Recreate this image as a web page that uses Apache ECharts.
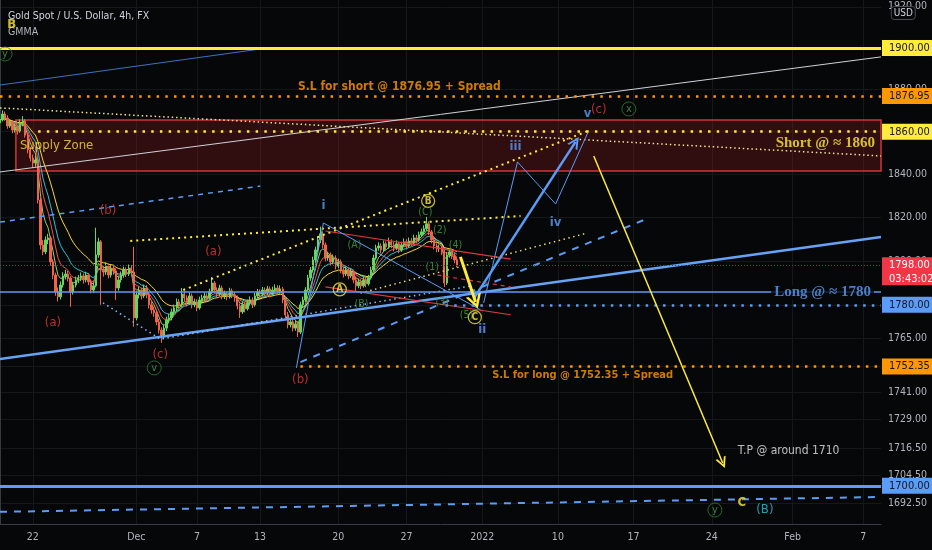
<!DOCTYPE html>
<html><head><meta charset="utf-8">
<script src="https://cdn.jsdelivr.net/npm/echarts@6/dist/echarts.min.js"></script>
<style>html,body{margin:0;padding:0;background:#060709;}#c{width:932px;height:550px;}</style>
</head><body><div id="c"></div>
<script>
const FONT = "'Liberation Sans Narrow','DejaVu Sans Condensed','Roboto',sans-serif";
const SERIF = "'Liberation Serif','DejaVu Serif',serif";

// ---- axes ----
const SLOT_COUNT = 350; // 4h bar slots (6 per trading day)
const dateTickSlots = [13, 54, 78, 103, 134, 161, 191, 221, 251, 282, 314, 342];
const dateTickLabels = ['22', 'Dec', '7', '13', '20', '27', '2022', '10', '17', '24', 'Feb', '7'];
const priceTicks = [1920, 1900, 1880, 1860, 1840, 1820, 1800, 1780, 1765, 1752.5, 1741, 1729, 1716.5, 1704.5, 1692.5];
const priceMin = 1683.6, priceMax = 1923.3;

// ---- candles [open, close, low, high] ----
const candles = [
[1864.2,1865.6,1862.8,1867.3],[1865.6,1868.4,1864.9,1870.1],[1868.4,1866.5,1865.2,1869.6],[1866.5,1862.7,1861.4,1867.8],
[1862.7,1864.6,1861.9,1866.0],[1864.6,1860.8,1859.3,1865.5],[1860.8,1862.2,1859.6,1863.8],[1862.2,1860.3,1858.7,1863.1],
[1860.3,1864.1,1859.5,1865.9],[1864.1,1865.1,1862.6,1867.4],[1865.1,1858.4,1857.2,1866.0],[1858.4,1851.4,1849.8,1859.3],
[1851.4,1847.6,1846.1,1852.8],[1847.6,1845.3,1843.0,1849.2],[1845.3,1846.7,1843.5,1848.6],[1846.7,1828.0,1826.4,1847.9],
[1828.0,1807.3,1805.2,1829.1],[1807.3,1804.1,1802.6,1809.5],[1804.1,1809.6,1803.0,1811.2],[1809.6,1810.5,1807.7,1812.4],
[1810.5,1799.5,1797.8,1811.3],[1799.5,1793.5,1791.6,1800.7],[1793.5,1785.8,1784.1,1794.6],[1785.8,1783.6,1781.5,1787.9],
[1783.6,1789.0,1782.4,1790.6],[1789.0,1793.1,1787.8,1794.8],[1793.1,1794.0,1791.5,1795.9],[1794.0,1792.2,1790.6,1795.4],
[1792.2,1785.8,1779.1,1793.0],[1785.8,1789.0,1784.6,1790.5],[1789.0,1791.3,1787.9,1792.8],[1791.3,1792.2,1789.9,1793.6],
[1792.2,1793.1,1790.8,1794.7],[1793.1,1791.3,1789.6,1794.2],[1791.3,1793.5,1790.2,1795.0],[1793.5,1790.4,1788.9,1794.3],
[1790.4,1786.7,1785.2,1791.6],[1786.7,1788.6,1785.3,1790.1],[1788.6,1802.7,1787.9,1815.2],[1802.7,1808.7,1801.4,1810.6],
[1808.7,1795.8,1780.0,1809.5],[1795.8,1794.9,1792.8,1797.7],[1794.9,1797.6,1793.6,1799.3],[1797.6,1793.5,1792.0,1798.8],
[1793.5,1796.7,1792.4,1798.2],[1796.7,1795.4,1793.7,1797.9],[1795.4,1787.6,1782.2,1796.6],[1787.6,1791.3,1786.4,1792.9],
[1791.3,1793.5,1790.1,1795.1],[1793.5,1795.8,1792.3,1797.4],[1795.8,1794.0,1792.6,1797.0],[1794.0,1796.7,1793.1,1798.3],
[1796.7,1794.9,1793.2,1798.0],[1794.9,1774.1,1770.1,1806.4],[1774.1,1784.5,1773.0,1786.1],[1784.5,1786.7,1782.9,1788.3],
[1786.7,1784.0,1782.4,1787.8],[1784.0,1787.6,1783.1,1789.2],[1787.6,1784.5,1783.0,1788.9],[1784.5,1780.0,1778.3,1785.6],
[1780.0,1777.7,1776.0,1781.4],[1777.7,1776.4,1774.6,1779.2],[1776.4,1772.3,1770.8,1777.5],[1772.3,1768.6,1767.0,1773.6],
[1768.6,1765.5,1762.9,1769.8],[1765.5,1769.5,1764.6,1771.0],[1769.5,1773.2,1768.2,1774.7],[1773.2,1774.1,1771.6,1775.9],
[1774.1,1776.8,1773.0,1778.3],[1776.8,1778.6,1775.4,1780.1],[1778.6,1781.3,1777.2,1782.9],[1781.3,1780.0,1778.4,1782.6],
[1780.0,1784.9,1779.1,1787.6],[1784.9,1783.1,1781.6,1786.2],[1783.1,1780.9,1779.3,1784.3],[1780.9,1784.0,1780.0,1785.5],
[1784.0,1780.0,1778.4,1785.1],[1780.0,1781.3,1778.9,1782.8],[1781.3,1778.6,1777.1,1782.5],[1778.6,1782.2,1777.8,1783.7],
[1782.2,1783.1,1780.9,1784.6],[1783.1,1784.0,1781.8,1785.6],[1784.0,1783.1,1781.5,1785.2],[1783.1,1785.8,1782.3,1787.3],
[1785.8,1789.9,1785.0,1792.6],[1789.9,1786.7,1785.1,1790.8],[1786.7,1784.9,1783.2,1787.9],[1784.9,1787.6,1784.0,1789.1],
[1787.6,1784.0,1782.5,1788.7],[1784.0,1784.9,1782.6,1786.4],[1784.9,1783.6,1782.1,1786.0],[1783.6,1786.3,1782.8,1787.7],
[1786.3,1784.5,1783.0,1787.4],[1784.5,1783.1,1781.4,1785.8],[1783.1,1779.5,1777.9,1784.2],[1779.5,1776.8,1774.1,1780.6],
[1776.8,1780.0,1775.9,1781.5],[1780.0,1778.2,1776.6,1781.3],[1778.2,1780.9,1777.4,1782.3],[1780.9,1782.2,1779.6,1783.8],
[1782.2,1780.0,1778.5,1783.4],[1780.0,1784.0,1779.2,1785.4],[1784.0,1785.8,1782.9,1787.2],[1785.8,1784.9,1783.3,1787.0],
[1784.9,1786.7,1783.8,1788.1],[1786.7,1785.4,1784.0,1787.9],[1785.4,1787.2,1784.5,1788.6],[1787.2,1784.9,1783.4,1788.3],
[1784.9,1786.7,1784.1,1788.2],[1786.7,1787.6,1785.5,1789.3],[1787.6,1786.3,1784.8,1788.9],[1786.3,1787.2,1785.0,1788.8],
[1787.2,1782.2,1780.7,1788.1],[1782.2,1775.5,1773.9,1783.3],[1775.5,1771.0,1769.4,1776.8],[1771.0,1772.3,1769.8,1773.9],
[1772.3,1769.5,1768.0,1773.5],[1769.5,1771.4,1768.3,1772.9],[1771.4,1767.7,1765.5,1772.6],[1767.7,1780.0,1766.8,1781.4],
[1780.0,1782.2,1778.8,1783.7],[1782.2,1786.7,1781.3,1788.0],[1786.7,1792.2,1785.9,1793.6],[1792.2,1795.8,1790.9,1797.2],
[1795.8,1800.4,1794.6,1801.9],[1800.4,1805.0,1799.1,1806.5],[1805.0,1809.6,1803.8,1811.2],[1809.6,1812.4,1808.1,1815.7],
[1812.4,1807.3,1805.8,1813.5],[1807.3,1801.3,1799.8,1808.4],[1801.3,1802.7,1800.0,1804.2],[1802.7,1799.5,1797.9,1803.8],
[1799.5,1801.3,1798.4,1802.9],[1801.3,1797.6,1796.0,1802.5],[1797.6,1799.5,1796.6,1801.0],[1799.5,1795.8,1794.3,1800.6],
[1795.8,1794.0,1792.4,1797.1],[1794.0,1795.8,1793.0,1797.3],[1795.8,1793.1,1791.6,1796.9],[1793.1,1794.9,1792.2,1796.4],
[1794.9,1791.3,1789.8,1795.9],[1791.3,1788.6,1785.8,1792.4],[1788.6,1790.4,1787.5,1791.9],[1790.4,1788.6,1787.1,1791.6],
[1788.6,1791.3,1787.8,1792.8],[1791.3,1789.5,1788.0,1792.5],[1789.5,1792.2,1788.7,1793.6],[1792.2,1795.8,1791.4,1797.3],
[1795.8,1801.3,1795.0,1802.8],[1801.3,1805.9,1800.5,1807.4],[1805.9,1806.8,1804.6,1808.5],[1806.8,1805.0,1803.4,1808.0],
[1805.0,1807.8,1804.2,1809.3],[1807.8,1806.4,1804.9,1808.9],[1806.4,1808.7,1805.5,1810.6],[1808.7,1807.3,1805.8,1809.9],
[1807.3,1805.9,1804.3,1808.6],[1805.9,1807.8,1805.0,1809.4],[1807.8,1805.0,1803.5,1808.7],[1805.0,1807.3,1804.1,1808.8],
[1807.3,1808.7,1806.2,1810.3],[1808.7,1806.8,1805.3,1809.9],[1806.8,1809.1,1806.0,1810.7],[1809.1,1808.2,1806.6,1810.5],
[1808.2,1810.5,1807.3,1812.0],[1810.5,1809.6,1808.0,1811.9],[1809.6,1811.9,1808.8,1813.4],[1811.9,1813.3,1810.9,1814.8],
[1813.3,1814.7,1812.2,1816.3],[1814.7,1817.0,1813.8,1820.2],[1817.0,1813.3,1811.8,1818.1],[1813.3,1809.6,1808.0,1814.2],
[1809.6,1806.8,1805.2,1810.5],[1806.8,1805.5,1803.9,1807.9],[1805.5,1805.9,1804.0,1807.4],[1805.9,1804.1,1802.6,1807.0],
[1804.1,1789.9,1788.1,1805.0],[1789.9,1802.7,1789.0,1804.0],[1802.7,1804.1,1801.5,1805.6],[1804.1,1802.3,1800.8,1805.2],
[1802.3,1800.4,1798.9,1803.6],[1800.4,1798.1,1797.0,1801.7]
];
const lastPrice = 1798.0;
const countdown = '03:43:02';

// ---- GMMA (EMA periods) ----
const gmmaPeriods = [5, 8, 12, 20];
const gmmaColors = ['#9ccc65', '#ef5350', '#26c6da', '#fdd835'];

// ---- horizontal levels ----
const levelTop = 1900, levelSlShort = 1876.95, levelShort = 1860, levelLongLine = 1785.7,
      levelLong = 1780, levelSlLong = 1752.35, levelBase = 1700;
const levelShortFrom = 15.1, levelLongFrom = 176.5, levelSlLongFrom = 119.0;

// ---- drawings, points as [slot, price] ----
const upperBlueThin = [[0, 1882.2], [103.1, 1899.5]];
const whiteTrend = [[0, 1841.1], [349, 1895.7]];
const yellowDotSlant = [[0, 1871.3], [349, 1848.6]];
const blueDashUpper = [[0, 1817.8], [103.1, 1834.5]];
const blueSupport = [[0, 1755.7], [349, 1810.9]];
const blueDashBottom = [[0, 1688.8], [349, 1695.2]];
const yellowDotTop = [[51.6, 1809.1], [206.2, 1820.6]];
const yellowDotRise = [[72.6, 1786.7], [232.8, 1860.3]];
const blueDotV = [[40.8, 1780.9], [63.5, 1764.6], [186.4, 1788.5]];
const lightDotRise = [[142.8, 1785.3], [232.8, 1812.8]];
const blueDashMid = [[119.0, 1754.3], [257.0, 1819.7]];
const redUpper = [[128.9, 1813.7], [202.3, 1800.8]];
const redLower = [[128.9, 1788.1], [202.3, 1775.5]];
const redDashMid = [[173.3, 1793.5], [202.3, 1788.1]];
const waveOne = [[117.4, 1751.7], [128.1, 1817.4], [190.4, 1777.7]];
const projZigzag = [[191.6, 1780.9], [205.0, 1845.8], [220.1, 1826.2], [232.8, 1859.4]];
const blueArrow = [[187.6, 1782.7], [228.0, 1855.2]];
const yellowArrow = [[235.2, 1848.6], [286.3, 1709.9]];
const yellowShortArrow = [[182.4, 1801.8], [188.4, 1781.3]];
const supplyZone = [[6.3, 1865.6], [349, 1841.6]];

// ---- text annotations [text, slot, price] ----
const blueWaveText = [['i',128.2,1825.3],['ii',191.0,1768.6],['iii',204.2,1852.8],['iv',220.1,1817.4],['v',232.8,1868.4]];
const redWaveText = [['(b)',42.8,1823.0],['(a)',84.5,1804.1],['(a)',21.0,1771.8],['(c)',63.5,1757.5],['(b)',119.0,1746.3],['(c)',237.2,1870.3]];
const greenSubText = [['(C)',168.5,1822.5],['(2)',174.2,1814.2],['(4)',180.4,1806.9],['(1)',171.2,1797.0],['(3)',175.2,1781.0],['(A)',140.4,1807.1],['(B)',143.2,1780.4],['(5)',184.8,1775.5]];
const greenCircles = [['x',249.1,1870.8],['v',61.1,1751.7],['y',283.2,1689.6],['y',2.0,1897.1]];
const yellowCircles = [['B',169.6,1827.6],['A',134.6,1787.0],['C',188.1,1774.4]];
const yellowLetters = [['B',4.6,1911.1],['C',293.9,1692.6]];
const tealText = [['(B)',303.0,1689.6]];
const noteSupply = [['Supply Zone', 7.9, 1853.3]];
const noteSlShort = [['S.L for short @ 1876.95 + Spread', 158.2, 1881.3]];
const noteSlLong = [['S.L for long @ 1752.35 + Spread', 230.8, 1748.5]];
const noteShort = [['Short @ ≈ 1860', 346.6, 1854.7]];
const noteLong = [['Long @ ≈ 1780', 346.2, 1785.6]];
const noteTp = [['T.P @ around 1710', 292.3, 1715.1]];

// ---------------------------------------------------------------
const slotNames = Array.from({length: SLOT_COUNT}, (_, i) => String(i));
const CHEVRON = 'path://M0,10 L5,0 L10,10 L8.2,10 L5,3.6 L1.8,10 Z';

function ema(period) {
  const a = 2 / (period + 1);
  let e = candles[0][1];
  return candles.map(c => { e = e + a * (c[1] - e); return +e.toFixed(2); });
}
function lineSeries(pts, ls, z) {
  return {type: 'line', xAxisIndex: 1, yAxisIndex: 0, data: pts, showSymbol: false, symbol: 'none',
          lineStyle: ls, z: z || 4, silent: true};
}
function textSeries(arr, label, opt) {
  opt = opt || {};
  return {type: 'scatter', xAxisIndex: 1, yAxisIndex: 0, z: 7, silent: true,
    symbol: 'circle', symbolSize: opt.size || 1,
    itemStyle: opt.itemStyle || {color: 'rgba(0,0,0,0)'},
    data: arr.map(a => ({name: a[0], value: [a[1], a[2]]})),
    label: Object.assign({show: true, position: 'inside', formatter: '{b}', fontFamily: FONT}, label)};
}
function boxLabel(v, bg, fg) {
  return {show: true, position: 'end', distance: 1, formatter: v.toFixed(2), backgroundColor: bg, color: fg,
          padding: [3, 7, 2, 7], fontSize: 11, fontFamily: FONT};
}
const dot = (w, g) => [w, g];

const markLines = [
  {yAxis: levelTop, lineStyle: {color: '#ffeb3b', width: 3, type: 'solid'}, label: boxLabel(levelTop, '#ffeb3b', '#131722')},
  {yAxis: levelSlShort, lineStyle: {color: '#ff9800', width: 2.5, type: dot(2.5, 6.2)}, label: boxLabel(levelSlShort, '#ff9800', '#131722')},
  [{coord: [levelShortFrom, levelShort], lineStyle: {color: '#ffeb3b', width: 2.5, type: dot(2.5, 6.2)}, label: boxLabel(levelShort, '#ffeb3b', '#131722')}, {coord: [349, levelShort]}],
  {yAxis: levelLongLine, lineStyle: {color: '#5b9cf6', width: 1.5, type: 'solid'}},
  [{coord: [levelLongFrom, levelLong], lineStyle: {color: '#5b9cf6', width: 2.5, type: dot(2.5, 6.2)}, label: boxLabel(levelLong, '#5b9cf6', '#131722')}, {coord: [349, levelLong]}],
  [{coord: [levelSlLongFrom, levelSlLong], lineStyle: {color: '#ff9800', width: 2.5, type: dot(2.5, 6.2)}, label: boxLabel(levelSlLong, '#ff9800', '#131722')}, {coord: [349, levelSlLong]}],
  {yAxis: levelBase, lineStyle: {color: '#5b9cf6', width: 3, type: 'solid'}, label: boxLabel(levelBase, '#5b9cf6', '#131722')},
  {yAxis: lastPrice, lineStyle: {color: '#9e2a30', width: 1, type: dot(1, 2)}, label: boxLabel(lastPrice, '#f23645', '#ffffff')},
  [{coord: blueArrow[0], lineStyle: {color: '#5b9cf6', width: 2.5, type: 'solid'}, symbol: 'none'}, {coord: blueArrow[1], symbol: CHEVRON, symbolSize: [12, 12]}],
  [{coord: yellowArrow[0], lineStyle: {color: '#ffeb3b', width: 1.5, type: 'solid'}, symbol: 'none'}, {coord: yellowArrow[1], symbol: CHEVRON, symbolSize: [11, 11]}],
  [{coord: yellowShortArrow[0], lineStyle: {color: '#ffeb3b', width: 3, type: 'solid'}, symbol: 'none'}, {coord: yellowShortArrow[1], symbol: CHEVRON, symbolSize: [16, 14]}]
];

const series = [
  {type: 'candlestick', data: candles, barWidth: 1.9, z: 2, silent: true,
   itemStyle: {color: '#62d85c', color0: '#f2624a', borderColor: '#62d85c', borderColor0: '#f2624a', borderWidth: 1}},
  ...gmmaPeriods.map((p, i) => ({type: 'line', data: ema(p), showSymbol: false, symbol: 'none', z: 2, silent: true,
     lineStyle: {color: gmmaColors[i], width: 1}})),
  {type: 'line', xAxisIndex: 1, yAxisIndex: 0, data: [], z: 3, silent: true,
   markArea: {silent: true, itemStyle: {color: 'rgba(170,30,36,0.26)', borderColor: '#cf3439', borderWidth: 1.5},
     data: [[{coord: supplyZone[0]}, {coord: supplyZone[1]}]]},
   markLine: {silent: true, symbol: ['none', 'none'], label: {show: false}, data: markLines}},
  lineSeries(upperBlueThin, {color: '#3f72c0', width: 1}),
  lineSeries(whiteTrend, {color: '#cfd2d8', width: 1}),
  lineSeries(yellowDotSlant, {color: '#efe394', width: 1.5, type: dot(1.5, 2.8)}),
  lineSeries(blueDashUpper, {color: '#5b9cf6', width: 1.5, type: dot(5, 5)}),
  lineSeries(blueSupport, {color: '#64a3f5', width: 2.5}),
  lineSeries(blueDashBottom, {color: '#5b9cf6', width: 2, type: dot(7, 7)}),
  lineSeries(yellowDotTop, {color: '#ffeb3b', width: 2, type: dot(2, 4)}),
  lineSeries(yellowDotRise, {color: '#ffeb3b', width: 2, type: dot(2, 4)}),
  lineSeries(blueDotV, {color: '#8fb8f5', width: 1.5, type: dot(1.5, 3.5)}),
  lineSeries(lightDotRise, {color: '#e3d97a', width: 1.5, type: dot(1.5, 3.5)}),
  lineSeries(blueDashMid, {color: '#5b9cf6', width: 2, type: dot(7, 7)}),
  lineSeries(redUpper, {color: '#e0383e', width: 1.2}),
  lineSeries(redLower, {color: '#e0383e', width: 1.2}),
  lineSeries(redDashMid, {color: '#e0383e', width: 1.2, type: dot(4, 4)}),
  lineSeries(waveOne, {color: '#5b9cf6', width: 1}),
  lineSeries(projZigzag, {color: '#5b9cf6', width: 1}),
  textSeries(blueWaveText, {color: '#5b9cf6', fontSize: 13, fontWeight: 'bold'}),
  textSeries(redWaveText, {color: '#e53935', fontSize: 13}),
  textSeries(greenSubText, {color: '#43a047', fontSize: 10.5}),
  textSeries(greenCircles, {color: '#43a047', fontSize: 11}, {size: 14, itemStyle: {color: 'rgba(0,0,0,0)', borderColor: '#2e7d32', borderWidth: 1}}),
  textSeries(yellowCircles, {color: '#ffeb3b', fontSize: 10, fontWeight: 'bold'}, {size: 13, itemStyle: {color: 'rgba(0,0,0,0)', borderColor: '#ffeb3b', borderWidth: 1.2}}),
  textSeries(yellowLetters, {color: '#ffeb3b', fontSize: 13, fontWeight: 'bold'}),
  textSeries(tealText, {color: '#26c6da', fontSize: 13}),
  textSeries(noteSupply, {color: '#f3e03c', fontSize: 13, align: 'left'}),
  textSeries(noteSlShort, {color: '#ff9800', fontSize: 12, fontWeight: 'bold'}),
  textSeries(noteSlLong, {color: '#ff9800', fontSize: 11, fontWeight: 'bold'}),
  textSeries(noteShort, {color: '#ffeb3b', fontSize: 15, fontWeight: 'bold', fontFamily: SERIF, align: 'right'}),
  textSeries(noteLong, {color: '#5b9cf6', fontSize: 15, fontWeight: 'bold', fontFamily: SERIF, align: 'right', backgroundColor: '#060709', padding: [0, 3]}),
  textSeries(noteTp, {color: '#e8e8e8', fontSize: 12, align: 'left'})
];

const option = {
  animation: false,
  backgroundColor: '#060709',
  title: [
    {text: 'Gold Spot / U.S. Dollar, 4h, FX', subtext: 'GMMA', left: 3, top: 6, itemGap: 5,
     textStyle: {color: '#d1d4dc', fontSize: 10.5, fontWeight: 'normal', fontFamily: FONT},
     subtextStyle: {color: '#b2b5be', fontSize: 10.5, fontFamily: FONT}},
    {text: 'USD', right: 16, top: 6, padding: [2, 3], borderColor: '#4a4e59', borderWidth: 1, borderRadius: 3,
     backgroundColor: '#060709', textStyle: {color: '#d1d4dc', fontSize: 10, fontWeight: 'normal', fontFamily: FONT}}
  ],
  grid: {left: 0, right: 51, top: 0, bottom: 26, containLabel: false, outerBoundsMode: 'none'},
  xAxis: [
    {type: 'category', data: slotNames, boundaryGap: false,
     axisLine: {show: true, lineStyle: {color: '#363a45'}}, axisTick: {show: false},
     axisLabel: {interval: (i) => dateTickSlots.includes(i),
                 formatter: (v, i) => { const k = dateTickSlots.indexOf(i); return k >= 0 ? dateTickLabels[k] : ''; },
                 color: '#b2b5be', fontSize: 10.5, fontFamily: FONT, margin: 8},
     splitLine: {show: true, interval: (i) => dateTickSlots.includes(i), lineStyle: {color: '#15171d', width: 1}}},
    {type: 'value', min: 0, max: SLOT_COUNT - 1, show: false}
  ],
  yAxis: {
    type: 'log', logBase: 10, min: priceMin, max: priceMax, position: 'right',
    axisLine: {show: true, lineStyle: {color: '#363a45'}},
    axisTick: {show: false, customValues: priceTicks},
    axisLabel: {customValues: priceTicks, formatter: (v) => Number(v).toFixed(2), color: '#b2b5be', fontSize: 10.5, fontFamily: FONT, margin: 7},
    splitLine: {show: true, lineStyle: {color: '#15171d', width: 1}}
  },
  series: series
};

const chart = echarts.init(document.getElementById('c'));
chart.setOption(option);
const yPx = chart.convertToPixel({yAxisIndex: 0}, lastPrice);
chart.setOption({graphic: [{type: 'text', left: 882, top: yPx + 7, z: 100,
  style: {text: countdown, fill: '#ffffff', backgroundColor: '#f23645', padding: [1, 7, 1, 7], fontSize: 11, fontFamily: FONT}}]});
</script></body></html>
